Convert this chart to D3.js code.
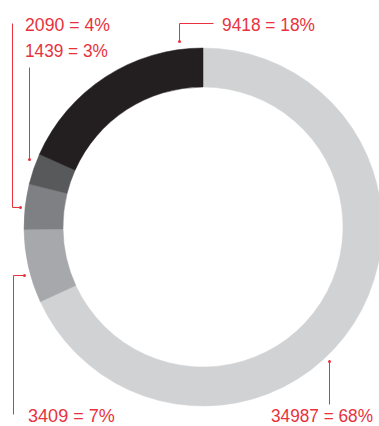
<!DOCTYPE html>
<html>
<head>
<meta charset="utf-8">
<script src="https://cdnjs.cloudflare.com/ajax/libs/d3/7.8.5/d3.min.js"></script>
<style>
  html, body { margin: 0; padding: 0; background: #ffffff; }
  svg { display: block; }
</style>
</head>
<body>
<svg id="chart" width="379" height="426"></svg>
<script>
// Segment values, in drawing order clockwise from 12 o'clock
const values = [34987, 3409, 2090, 1439, 9418];
const percents = ["68%", "7%", "4%", "3%", "18%"];
const colors = ["#d1d2d4", "#a7a8ab", "#7f8083", "#58595b", "#231f20"];

const W = 379, H = 426;
const cx = 203, cy = 227;
const outerR = 179, innerR = 140;
const red = "#e8323d";

const svg = d3.select("#chart");

const pie = d3.pie().sort(null).value(d => d);
const arcs = pie(values);
const arc = d3.arc().innerRadius(innerR).outerRadius(outerR);

const g = svg.append("g").attr("transform", `translate(${cx},${cy})`);
g.selectAll("path.slice")
  .data(arcs)
  .join("path")
  .attr("class", "slice")
  .attr("d", arc)
  .attr("fill", (d, i) => colors[i])
  .attr("stroke", (d, i) => colors[i])
  .attr("stroke-width", 0.5);

// Point just outside the ring, at a fraction along a segment's sweep
function anchor(i, frac, r) {
  const a = arcs[i].startAngle + (arcs[i].endAngle - arcs[i].startAngle) * frac;
  return [cx + r * Math.sin(a), cy - r * Math.cos(a)];
}

// Callout layout: anchor on the ring, elbow path, and label placement
const callouts = [
  { i: 0, frac: 0.557, r: 184, path: p => [[p[0], p[1]], [p[0], 404]],
    tx: 271, ty: 422, tw: 102 },
  { i: 1, frac: 0.41, r: 185, path: p => [[p[0], p[1]], [13, p[1]], [13, 414]],
    tx: 28, ty: 422, tw: 87 },
  { i: 2, frac: 0.48, r: 184, path: p => [[p[0], p[1]], [12, p[1]], [12, 23]],
    tx: 25, ty: 31, tw: 85 },
  { i: 3, frac: 0.75, r: 187, path: p => [[p[0], p[1]], [p[0], 67]],
    tx: 25, ty: 57, tw: 83 },
  { i: 4, frac: 0.89, r: 188, path: p => [[p[0], p[1]], [p[0], 23], [213, 23]],
    tx: 222, ty: 31, tw: 93 }
];

const line = d3.line();
const ann = svg.append("g");
callouts.forEach(c => {
  const p = anchor(c.i, c.frac, c.r);
  const pts = c.path(p).map(q => [Math.round(q[0]) + 0.5, Math.round(q[1]) + 0.5]);
  ann.append("path")
    .attr("d", line(pts))
    .attr("fill", "none")
    .attr("stroke", red)
    .attr("stroke-width", 1);
  ann.append("circle")
    .attr("cx", pts[0][0])
    .attr("cy", pts[0][1])
    .attr("r", 1.5)
    .attr("fill", red);
  // Condensed look: squeeze the label horizontally to its target width
  const t = ann.append("text")
    .attr("x", 0)
    .attr("y", 0)
    .attr("fill", red)
    .style("font-family", "'Liberation Sans Narrow', 'Arial Narrow', 'Liberation Sans', sans-serif")
    .style("font-size", "19px")
    .text(`${values[c.i]} = ${percents[c.i]}`);
  const natural = t.node().getComputedTextLength();
  t.attr("transform", `translate(${c.tx},${c.ty}) scale(${c.tw / natural},1)`);
});
</script>
</body>
</html>
